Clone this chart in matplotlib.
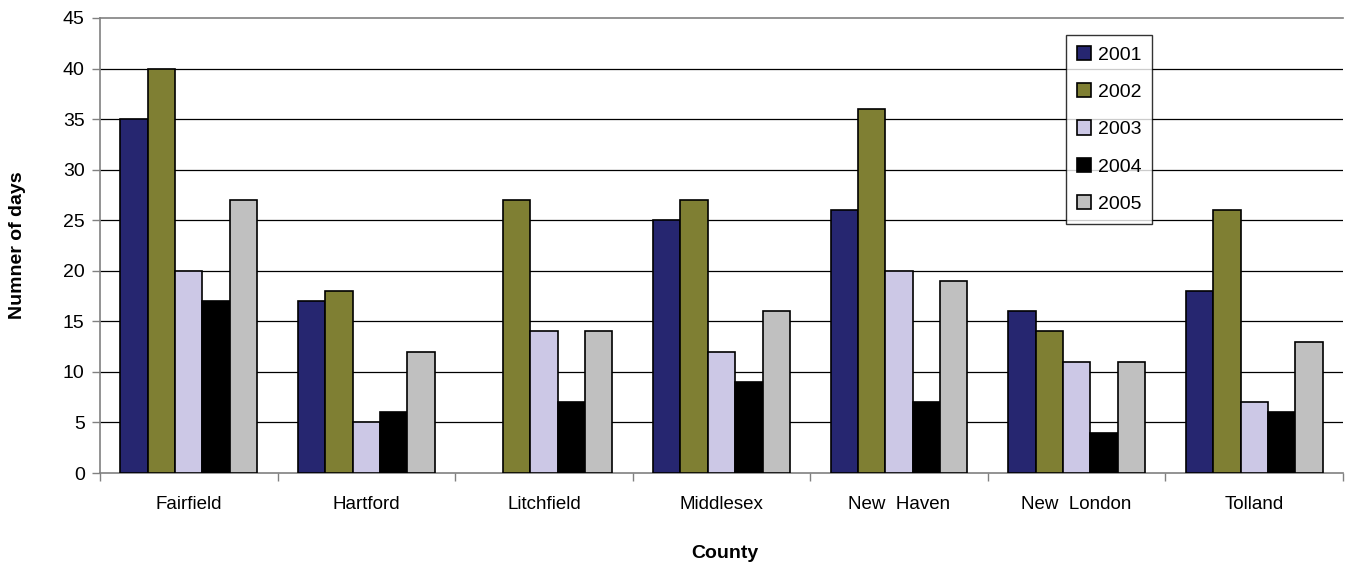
import matplotlib
matplotlib.use("Agg")
import matplotlib.pyplot as plt
import numpy as np
from matplotlib.patches import Patch

counties = ["Fairfield", "Hartford", "Litchfield", "Middlesex",
            "New  Haven", "New  London", "Tolland"]
years = ["2001", "2002", "2003", "2004", "2005"]
days_2001 = [35, 17, 0, 25, 26, 16, 18]
days_2002 = [40, 18, 27, 27, 36, 14, 26]
days_2003 = [20, 5, 14, 12, 20, 11, 7]
days_2004 = [17, 6, 7, 9, 7, 4, 6]
days_2005 = [27, 12, 14, 16, 19, 11, 13]
series = [days_2001, days_2002, days_2003, days_2004, days_2005]
colors = ["#262670", "#7f7f33", "#ccc8e6", "#000000", "#c0c0c0"]

plt.rcParams["font.family"] = ["Liberation Sans", "DejaVu Sans"]

W, H = 1349, 569
fig = plt.figure(figsize=(W / 100, H / 100), dpi=100)
ax = fig.add_axes([100 / W, 1 - 473 / H, (1343 - 100) / W, (473 - 18) / H])

n = len(years)
group_w = 0.77
bw = group_w / n
x = np.arange(len(counties))
for i, (vals, c) in enumerate(zip(series, colors)):
    bars = ax.bar(x - group_w / 2 + bw * (i + 0.5), vals, width=bw, color=c,
                  edgecolor="black", linewidth=1.2, zorder=3)
    for b, v in zip(bars, vals):
        if v == 0:
            b.set_linewidth(0)

ax.set_xlim(-0.5, len(counties) - 0.5)
ax.set_ylim(0, 45)
ax.set_yticks(np.arange(0, 46, 5))
ax.set_yticklabels([str(v) for v in range(0, 46, 5)], fontsize=14)
ax.set_xticks(x)
ax.set_xticklabels(counties, fontsize=13.5)
ax.tick_params(axis="x", length=0, pad=16.5)
ax.set_xticks(np.arange(-0.5, len(counties), 1), minor=True)
ax.tick_params(axis="x", which="minor", length=6, color="#808080", width=1)
ax.tick_params(axis="y", length=6, color="#808080", width=1, pad=5)

for v in range(5, 45, 5):
    ax.axhline(v, color="black", linewidth=0.9, zorder=1)

ax.spines["right"].set_visible(False)
for s in ["top", "left", "bottom"]:
    ax.spines[s].set_color("#808080")
    ax.spines[s].set_linewidth(1.2)

fig.text(725 / W, 1 - 554 / H, "County", fontsize=14, fontweight="bold",
         ha="center", va="center")
fig.text(18 / W, 1 - 245 / H, "Numner of days", fontsize=14, fontweight="bold",
         ha="center", va="center", rotation=90)

handles = [Patch(facecolor=c, edgecolor="black", linewidth=1.2) for c in colors]
leg = ax.legend(handles, years, loc="upper left",
                bbox_to_anchor=((1066 - 100) / 1243, (473 - 35) / 455),
                fontsize=14, frameon=True, fancybox=False, edgecolor="black",
                handlelength=0.75, handleheight=0.75, handletextpad=0.35,
                labelspacing=1.0, borderpad=0.55, borderaxespad=0)
leg.get_frame().set_linewidth(1.0)

fig.savefig("out.png", dpi=100)
